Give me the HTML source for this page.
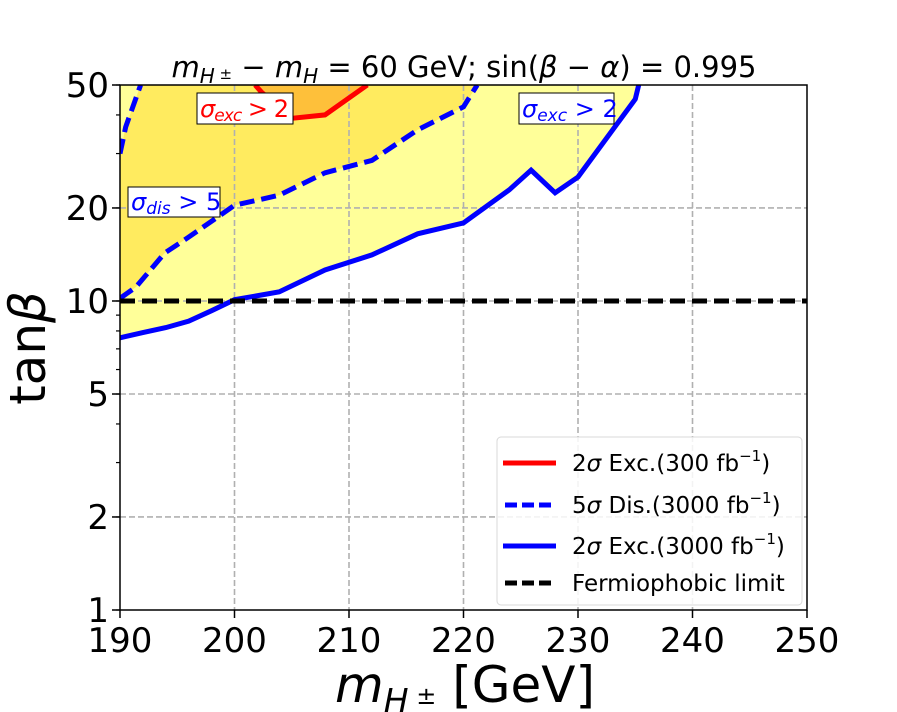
<!DOCTYPE html>
<html><head><meta charset="utf-8"><style>
body{margin:0;background:#fff;}
svg{display:block;font-family:"DejaVu Sans","Liberation Sans",sans-serif;}
</style></head><body>
<svg id="chart" width="897" height="712" viewBox="0 0 897 712"></svg>
<script>
const xTicks=[190,200,210,220,230,240,250];
const yTicks=[1,2,5,10,20,50];
const redX=[201.8,202.4,205,207.9,211.6];
const redY=[50,47.2,39,40,50];
const disX=[190,191.4,193.9,196,200,203.9,207.9,212,216,220,221.2];
const disY=[10.2,11.1,14.3,16.1,20.4,22,26,28.5,35.8,42.5,50];
const disUpX=[190,190.5,191.8];
const disUpY=[30,36.6,50];
const excX=[190,192,194,196,198,200,203.9,207.9,212,216,220,224,225.9,228,230,235,235.3];
const excY=[7.6,7.9,8.2,8.6,9.3,10.1,10.7,12.6,14.1,16.5,17.9,22.9,26.5,22.4,25.2,45,50];
const fermi=10;
const L=120,R=807,T=85,B=610;
const sx=v=>L+(v-190)/(250-190)*(R-L);
const sy=v=>B-(Math.log10(v)-0)/(Math.log10(50))*(B-T);
const svg=document.getElementById('chart');
const NS='http://www.w3.org/2000/svg';
function mk(tag,at,parent){const e=document.createElementNS(NS,tag);for(const k in at)e.setAttribute(k,at[k]);(parent||svg).appendChild(e);return e;}
function pts(xs,ys){return xs.map((x,i)=>sx(x).toFixed(1)+','+sy(ys[i]).toFixed(1));}
const defs=mk('defs',{});const cp=mk('clipPath',{id:'cp'},defs);mk('rect',{x:L,y:T,width:R-L,height:B-T},cp);
const g=mk('g',{'clip-path':'url(#cp)'});
let e=mk('polygon',{points:pts(excX,excY).join(' ')+' '+sx(190)+','+T,fill:'#ffff99'},g);

e=mk('polygon',{points:pts(disX,disY).join(' ')+' '+pts(disUpX,disUpY).reverse().join(' '),fill:'#ffeb5f'},g);

e=mk('polygon',{points:pts(redX,redY).join(' '),fill:'#fec03a'},g);

xTicks.slice(1,-1).forEach(v=>{const l=mk('line',{x1:sx(v),x2:sx(v),y1:T,y2:B,stroke:'#b0b0b0','stroke-width':1.6,'stroke-dasharray':'6,3'},g);});
yTicks.slice(1,-1).forEach(v=>{const l=mk('line',{x1:L,x2:R,y1:sy(v),y2:sy(v),stroke:'#b0b0b0','stroke-width':1.6,'stroke-dasharray':'6,3'},g);});
e=mk('polyline',{points:pts(redX,redY).join(' '),fill:'none',stroke:'#ff0000','stroke-width':5},g);

e=mk('polyline',{points:pts(disX,disY).join(' '),fill:'none',stroke:'#0000ff','stroke-width':5,'stroke-dasharray':'15,7'},g);

e=mk('polyline',{points:pts(disUpX,disUpY).join(' '),fill:'none',stroke:'#0000ff','stroke-width':5,'stroke-dasharray':'15,7'},g);

e=mk('polyline',{points:pts(excX,excY).join(' '),fill:'none',stroke:'#0000ff','stroke-width':5},g);

e=mk('line',{x1:L,x2:R,y1:sy(fermi),y2:sy(fermi),stroke:'#000','stroke-width':5,'stroke-dasharray':'15,7'},g);

e=mk('rect',{x:L,y:T,width:R-L,height:B-T,fill:'none',stroke:'#000','stroke-width':1.5});

xTicks.forEach(v=>{mk('line',{x1:sx(v),x2:sx(v),y1:B,y2:B+8,stroke:'#000','stroke-width':1.5});
const t=mk('text',{x:sx(v),y:B+42,'font-size':34,'text-anchor':'middle'});t.textContent=v;});
for(let d=1;d<=50;d*=10){for(let k=1;k<10;k++){const v=d*k;if(v>50)break;mk('line',{x1:L-4,x2:L,y1:sy(v),y2:sy(v),stroke:'#000','stroke-width':1.2});}}
yTicks.forEach(v=>{mk('line',{x1:L-8,x2:L,y1:sy(v),y2:sy(v),stroke:'#000','stroke-width':1.5});
const t=mk('text',{x:L-11,y:sy(v)+12,'font-size':34,'text-anchor':'end'});t.textContent=v;});
</script>
<svg width="897" height="712" style="position:absolute;left:0;top:0" font-family="DejaVu Sans, Liberation Sans, sans-serif">
<text x="464" y="77" font-size="29" text-anchor="middle"><tspan font-style="italic">m</tspan><tspan font-style="italic" font-size="20" dy="6">H</tspan><tspan font-size="15" dy="-4"> ±</tspan><tspan dy="-2"> − </tspan><tspan font-style="italic">m</tspan><tspan font-style="italic" font-size="20" dy="6">H</tspan><tspan dy="-6"> = 60 GeV; sin(</tspan><tspan font-style="italic">β</tspan><tspan> − </tspan><tspan font-style="italic">α</tspan><tspan>) = 0.995</tspan></text>
<text x="465" y="702" font-size="50" text-anchor="middle"><tspan font-style="italic">m</tspan><tspan font-style="italic" font-size="33" dy="10">H</tspan><tspan font-size="24" dy="-8"> ±</tspan><tspan dy="-2">  [GeV]</tspan></text>
<text transform="translate(45,348) rotate(-90)" font-size="50" text-anchor="middle">tan<tspan font-style="italic">β</tspan></text>
<g><rect x="197" y="93" width="96" height="31" fill="#fff" stroke="#000" stroke-width="1"/><text x="200" y="117" font-size="24" fill="#f00" textLength="89"><tspan font-style="italic">σ</tspan><tspan font-style="italic" font-size="17" dy="4">exc</tspan><tspan dy="-4"> &gt; 2</tspan></text></g>
<g><rect x="519" y="93" width="95" height="31" fill="#fff" stroke="#000" stroke-width="1"/><text x="522" y="117" font-size="24" fill="#00f"><tspan font-style="italic">σ</tspan><tspan font-style="italic" font-size="17" dy="4">exc</tspan><tspan dy="-4"> &gt; 2</tspan></text></g>
<g><rect x="128" y="187" width="92" height="30" fill="#fff" stroke="#000" stroke-width="1"/><text x="131" y="210" font-size="24" fill="#00f"><tspan font-style="italic">σ</tspan><tspan font-style="italic" font-size="17" dy="4">dis</tspan><tspan dy="-4"> &gt; 5</tspan></text></g>
<g font-size="23">
<rect x="497" y="437" width="305" height="168" rx="4" fill="#fff" fill-opacity="0.85" stroke="#d8d8d8" stroke-width="1"/>
<line x1="503" x2="556" y1="463" y2="463" stroke="#f00" stroke-width="5"/><text x="572" y="471">2<tspan font-style="italic">σ</tspan> Exc.(300 fb<tspan font-size="15" dy="-10">−1</tspan><tspan dy="10">)</tspan></text>
<line x1="505" x2="556" y1="505" y2="505" stroke="#00f" stroke-width="5" stroke-dasharray="12,5"/><text x="572" y="513">5<tspan font-style="italic">σ</tspan> Dis.(3000 fb<tspan font-size="15" dy="-10">−1</tspan><tspan dy="10">)</tspan></text>
<line x1="503" x2="556" y1="546" y2="546" stroke="#00f" stroke-width="5"/><text x="572" y="554">2<tspan font-style="italic">σ</tspan> Exc.(3000 fb<tspan font-size="15" dy="-10">−1</tspan><tspan dy="10">)</tspan></text>
<line x1="505" x2="556" y1="583" y2="583" stroke="#000" stroke-width="5" stroke-dasharray="12,5"/><text x="572" y="591">Fermiophobic limit</text>
</g>
</svg>
</body></html>
